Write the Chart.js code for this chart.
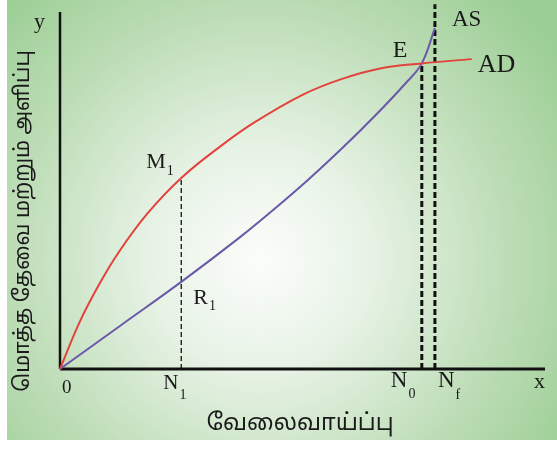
<!DOCTYPE html>
<html>
<head>
<meta charset="utf-8">
<script src="https://cdn.jsdelivr.net/npm/chart.js@4.4.1/dist/chart.umd.min.js"></script>
<style>
  html, body { margin: 0; padding: 0; background: #ffffff; }
  #wrap { width: 557px; height: 449px; position: relative; }
</style>
</head>
<body>
<div id="wrap"><canvas id="c" width="557" height="449"></canvas></div>
<script>
// ---- data (x = employment, y = aggregate demand / supply) ----
const adX = [0, 4, 8, 12, 18, 25, 33, 40, 50, 58, 66, 74.6, 84.9];
const adY = [0, 13, 23.5, 32.5, 43.5, 53.5, 62.3, 69, 76.8, 81.2, 84.2, 85.6, 86.8];
const asX = [0, 12.5, 25, 37, 44, 51, 58, 65, 71.5, 74.6, 77.3];
const asY = [0, 12.2, 24.4, 36.8, 44.6, 52.8, 61.6, 71, 80.4, 85.6, 95.5];
const n1 = 25, m1 = 53.5;       // N1 and M1
const n0 = 74.6, eY = 85.6;     // N0 and E
const nf = 77.3, nfTop = 102.2; // Nf line
const axisMax = 100;
const xTitle = 'வேலைவாய்ப்பு';
const yTitle = 'மொத்த தேவை மற்றும் அளிப்பு';

const pts = (xs, ys) => xs.map((x, i) => ({ x: x, y: ys[i] }));

const bgPlugin = {
  id: 'bg',
  beforeDraw(chart) {
    const ctx = chart.ctx;
    ctx.save();
    ctx.fillStyle = '#ffffff';
    ctx.fillRect(0, 0, chart.width, chart.height);
    const g = ctx.createRadialGradient(260, 260, 0, 260, 260, 360);
    g.addColorStop(0, '#fbfdfb');
    g.addColorStop(0.3, '#e8f3e6');
    g.addColorStop(0.7, '#bcdcb5');
    g.addColorStop(1, '#9ccf95');
    ctx.fillStyle = g;
    ctx.fillRect(7, 0, chart.width - 7, 440);
    ctx.restore();
  }
};

const SERIF = '"Liberation Serif", "Times New Roman", serif';
function textSub(ctx, main, sub, x, y, size, subDy) {
  ctx.font = size + 'px ' + SERIF;
  ctx.textAlign = 'left';
  ctx.textBaseline = 'alphabetic';
  ctx.fillText(main, x, y);
  const w = ctx.measureText(main).width;
  if (sub) {
    ctx.font = '14px ' + SERIF;
    ctx.fillText(sub, x + w + 1, y + subDy);
  }
}

const labelPlugin = {
  id: 'labels',
  afterDatasetsDraw(chart) {
    const ctx = chart.ctx, xs = chart.scales.x, ys = chart.scales.y;
    const px = v => xs.getPixelForValue(v), py = v => ys.getPixelForValue(v);
    ctx.save();
    ctx.fillStyle = '#1a1a1a';
    textSub(ctx, 'y', '', px(0) - 26, py(axisMax) + 16, 22);
    textSub(ctx, 'AS', '', px(asX[asX.length - 1]) + 17, py(asY[asY.length - 1]) - 2, 23);
    textSub(ctx, 'E', '', px(n0) - 29, py(eY) - 6, 24);
    textSub(ctx, 'AD', '', px(adX[adX.length - 1]) + 6, py(adY[adY.length - 1]) + 13, 26);
    textSub(ctx, 'M', '1', px(n1) - 35, py(m1) - 10, 22, 7);
    textSub(ctx, 'R', '1', px(n1) + 12, py(0) - 65, 22, 6);
    textSub(ctx, '0', '', px(0) + 2, py(0) + 24, 19);
    textSub(ctx, 'N', '1', px(n1) - 18, py(0) + 20, 21, 10);
    textSub(ctx, 'N', '0', px(n0) - 31, py(0) + 18, 23, 11);
    textSub(ctx, 'N', 'f', px(nf) + 3, py(0) + 18, 23, 12);
    textSub(ctx, 'x', '', px(axisMax) - 11, py(0) + 19, 22);
    // axis titles
    ctx.textAlign = 'center';
    ctx.textBaseline = 'middle';
    ctx.font = '23px "Noto Sans Tamil", "Lohit Tamil", "Noto Sans", sans-serif';
    ctx.fillText(xTitle, 300, 425);
    ctx.font = '21px "Noto Sans Tamil", "Lohit Tamil", "Noto Sans", sans-serif';
    ctx.translate(25, 221);
    ctx.rotate(-Math.PI / 2);
    ctx.fillText(yTitle, 0, 0);
    ctx.restore();
  }
};

new Chart(document.getElementById('c'), {
  type: 'line',
  data: {
    datasets: [
      { label: 'AD', data: pts(adX, adY), borderColor: '#e2433c', borderWidth: 2, tension: 0.4, pointRadius: 0, fill: false, clip: false },
      { label: 'AS', data: pts(asX, asY), borderColor: '#6a58a8', borderWidth: 2, tension: 0.4, pointRadius: 0, fill: false, clip: false },
      { label: 'N1', data: [{ x: n1, y: 0 }, { x: n1, y: m1 }], borderColor: '#111', borderWidth: 1.3, borderDash: [5, 3], pointRadius: 0, clip: false },
      { label: 'N0', data: [{ x: n0, y: 0 }, { x: n0, y: eY }], borderColor: '#111', borderWidth: 3, borderDash: [6, 3], pointRadius: 0, clip: false },
      { label: 'Nf', data: [{ x: nf, y: 0 }, { x: nf, y: nfTop }], borderColor: '#111', borderWidth: 3, borderDash: [6, 3], pointRadius: 0, clip: false },
      { label: 'yaxis', data: [{ x: 0, y: 0 }, { x: 0, y: axisMax }], borderColor: '#111', borderWidth: 2.5, pointRadius: 0, clip: false },
      { label: 'xaxis', data: [{ x: 0, y: 0 }, { x: axisMax, y: 0 }], borderColor: '#111', borderWidth: 3, pointRadius: 0, clip: false }
    ]
  },
  options: {
    responsive: false,
    animation: false,
    events: [],
    layout: { padding: { left: 60, right: 12, top: 12, bottom: 80 } },
    plugins: { legend: { display: false }, tooltip: { enabled: false } },
    scales: {
      x: { type: 'linear', min: 0, max: axisMax, display: false },
      y: { type: 'linear', min: 0, max: axisMax, display: false }
    }
  },
  plugins: [bgPlugin, labelPlugin]
});
</script>
</body>
</html>
